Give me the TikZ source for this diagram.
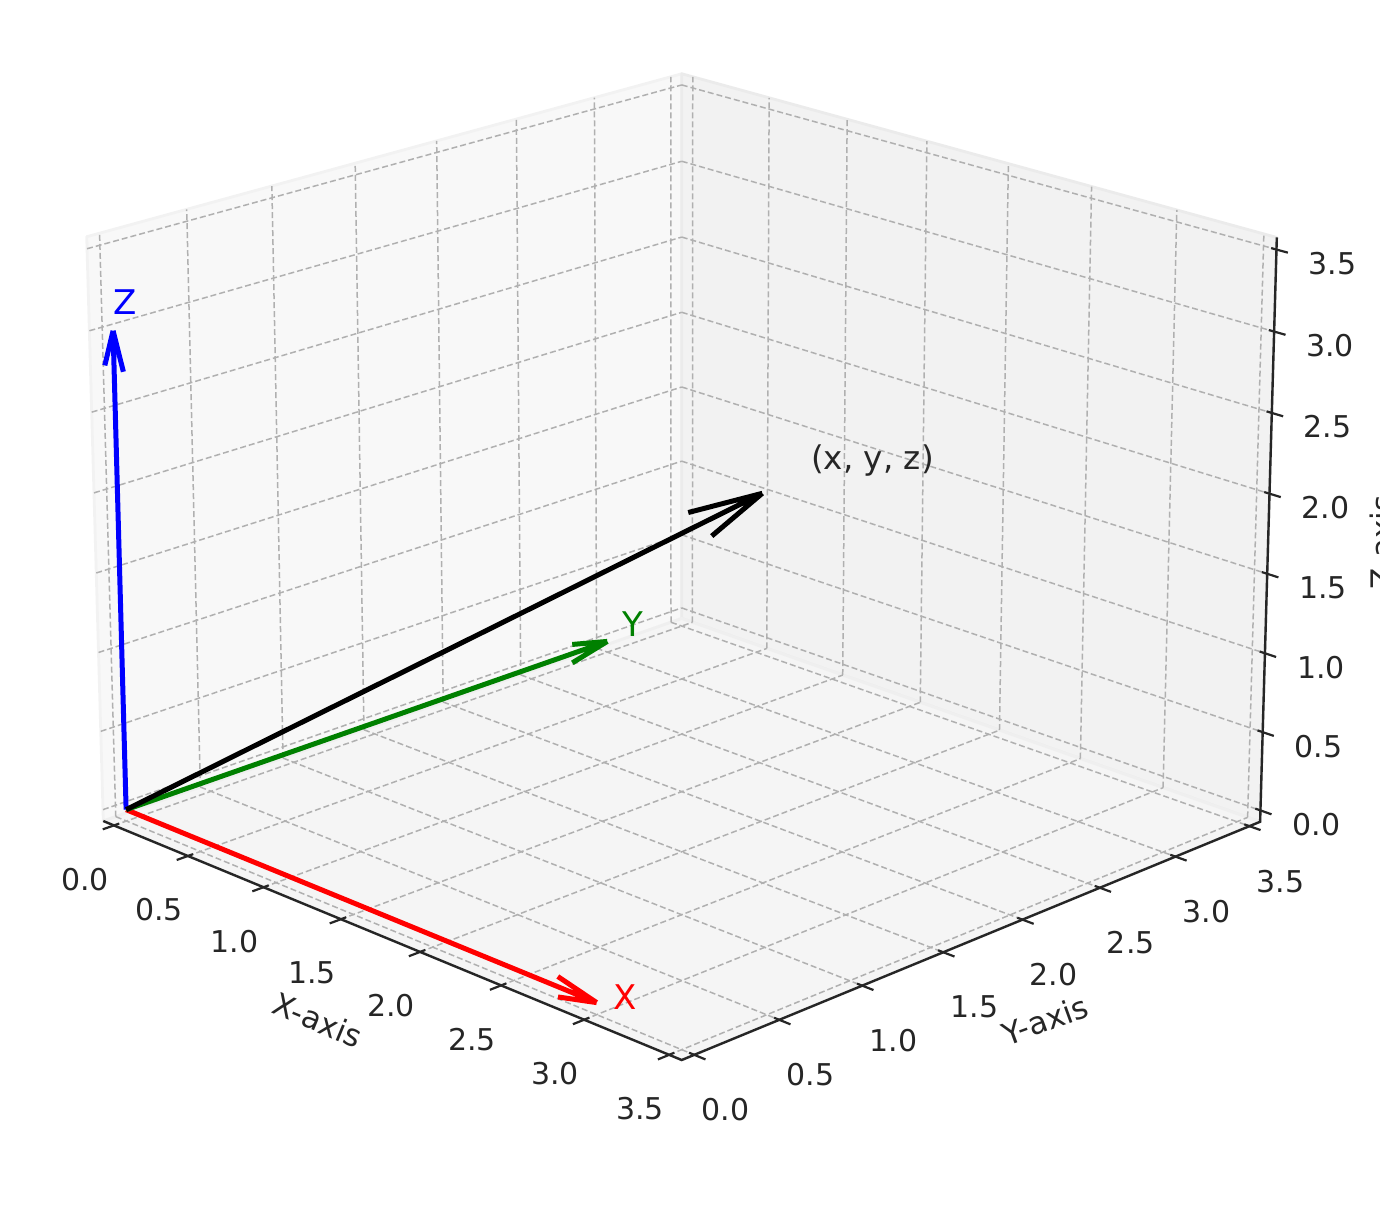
\documentclass[tikz,border=0pt]{standalone}
\usepackage{fontspec}
\setmainfont{DejaVu Sans}
\usetikzlibrary{calc}

\definecolor{ink}{HTML}{262626}
\definecolor{gridgray}{HTML}{B0B0B0}
\definecolor{panex}{HTML}{F8F8F8}
\definecolor{paney}{HTML}{F2F2F2}
\definecolor{panez}{HTML}{F5F5F5}
\definecolor{edgex}{HTML}{F2F2F2}
\definecolor{edgey}{HTML}{EBEBEB}
\definecolor{edgez}{HTML}{EFEFEF}
\definecolor{vgreen}{HTML}{008000}

% padded data box [-pad, 3.5+pad]^3 seen in perspective
\newcommand{\boxpad}{0.072917}
\newcommand{\boxrng}{3.645833}
\def\lo{-0.072917}
\def\hi{3.572917}
% \setpt{name}{x}{y}{z}: coordinate of a data point
\newcommand{\setpt}[4]{%
  \pgfmathsetmacro\pu{(#2+\boxpad)/\boxrng}%
  \pgfmathsetmacro\pv{(#3+\boxpad)/\boxrng}%
  \pgfmathsetmacro\pw{(#4+\boxpad)/\boxrng}%
  \pgfmathsetmacro\pd{1-0.081*\pu+0.081*\pv-0.028*\pw}%
  \pgfmathsetmacro\px{103.3+(0.919*\pu*578.4+1.081*\pv*578.4-0.972*\pw*16.6)/\pd}%
  \pgfmathsetmacro\py{821+(0.919*\pu*239-1.081*\pv*202.5-0.972*\pw*584.3)/\pd}%
  \coordinate (#1) at (\px,\py);%
}

\begin{document}
\begin{tikzpicture}[
    x=0.5pt, y=-0.5pt,
    pane/.style={line width=1.4pt, line join=round},
    grid/.style={draw=gridgray, line width=0.75pt, dash pattern=on 3pt off 1.5pt},
    axisline/.style={draw=ink, line width=1.2pt},
    tickline/.style={draw=ink, line width=1.1pt},
    ticklbl/.style={text=ink, inner sep=0pt, font=\fontsize{15}{17}\selectfont},
    axislbl/.style={text=ink, inner sep=0pt, font=\fontsize{15.5}{18}\selectfont},
    vec/.style={line width=2.5pt},
    veclbl/.style={anchor=base west, inner sep=0pt, font=\fontsize{17}{20}\selectfont}
  ]
  \useasboundingbox (0,0) rectangle (1380,1216);

  % Box corners
  \setpt{A000}{\lo}{\lo}{\lo}
  \setpt{A100}{\hi}{\lo}{\lo}
  \setpt{A010}{\lo}{\hi}{\lo}
  \setpt{A110}{\hi}{\hi}{\lo}
  \setpt{A001}{\lo}{\lo}{\hi}
  \setpt{A011}{\lo}{\hi}{\hi}
  \setpt{A111}{\hi}{\hi}{\hi}

  % Panes
  \draw[pane, draw=edgex, fill=panex] (A000) -- (A010) -- (A011) -- (A001) -- cycle;
  \draw[pane, draw=edgey, fill=paney] (A010) -- (A110) -- (A111) -- (A011) -- cycle;
  \draw[pane, draw=edgez, fill=panez] (A000) -- (A100) -- (A110) -- (A010) -- cycle;

  % Grid
  \foreach \t in {0.0,0.5,1.0,1.5,2.0,2.5,3.0,3.5} {
    \setpt{g1}{\lo}{\t}{\lo} \setpt{g2}{\lo}{\t}{\hi}
    \draw[grid] (g1) -- (g2);
    \setpt{g1}{\lo}{\lo}{\t} \setpt{g2}{\lo}{\hi}{\t}
    \draw[grid] (g1) -- (g2);
    \setpt{g1}{\t}{\hi}{\lo} \setpt{g2}{\t}{\hi}{\hi}
    \draw[grid] (g1) -- (g2);
    \setpt{g1}{\lo}{\hi}{\t} \setpt{g2}{\hi}{\hi}{\t}
    \draw[grid] (g1) -- (g2);
    \setpt{g1}{\t}{\lo}{\lo} \setpt{g2}{\t}{\hi}{\lo}
    \draw[grid] (g1) -- (g2);
    \setpt{g1}{\lo}{\t}{\lo} \setpt{g2}{\hi}{\t}{\lo}
    \draw[grid] (g1) -- (g2);
  }

  % Axes
  \draw[axisline] (A000) -- (A100) -- (A110) -- (A111);

  % Ticks and tick labels
  \foreach \t [count=\i] in {0.0,0.5,1.0,1.5,2.0,2.5,3.0,3.5} {
    \setpt{xa}{\t}{\lo}{\lo}
    \setpt{t1}{\t}{\lo+0.03}{\lo} \setpt{t2}{\t}{\lo-0.065}{\lo}
    \draw[tickline] (t1) -- (t2);
    \node[ticklbl] (xt\i) at ([shift={(-29,54)}]xa) {\t};
    \setpt{ya}{\hi}{\t}{\lo}
    \setpt{t1}{\hi-0.03}{\t}{\lo} \setpt{t2}{\hi+0.065}{\t}{\lo}
    \draw[tickline] (t1) -- (t2);
    \node[ticklbl] (yt\i) at ([shift={(31,55)}]ya) {\t};
    \setpt{za}{\hi}{\hi}{\t}
    \setpt{t1}{\hi-0.03}{\hi}{\t} \setpt{t2}{\hi+0.065}{\hi}{\t}
    \draw[tickline] (t1) -- (t2);
    \node[ticklbl] (zt\i) at ([shift={(56,14)}]za) {\t};
  }

  % Axis labels
  \node[axislbl, rotate=-22.5] (xlabel) at (318,1020) {X-axis};
  \node[axislbl, rotate=20] (ylabel) at (1045,1020) {Y-axis};
  \node[axislbl, rotate=90, anchor=base west] (zlabel) at (1393,590) {Z-axis};

  % Vectors
  \setpt{O}{0}{0}{0}
  \setpt{Xt}{3}{0}{0}
  \setpt{Xh1}{2.7682}{0}{0.0621}
  \setpt{Xh2}{2.7682}{0}{-0.0621}
  \setpt{Yt}{0}{3}{0}
  \setpt{Yh1}{0}{2.7682}{0.0621}
  \setpt{Yh2}{0}{2.7682}{-0.0621}
  \setpt{Zt}{0}{0}{3}
  \setpt{Zh1}{0.0621}{0}{2.7682}
  \setpt{Zh2}{-0.0621}{0}{2.7682}
  \setpt{Pt}{2}{2}{2}
  \setpt{Ph1}{1.8434}{1.8434}{1.7336}
  \setpt{Ph2}{1.7702}{1.7702}{1.8800}

  \draw[vec, red] (O) -- (Xt) (Xh1) -- (Xt) (Xh2) -- (Xt);
  \draw[vec, vgreen] (O) -- (Yt) (Yh1) -- (Yt) (Yh2) -- (Yt);
  \draw[vec, blue] (O) -- (Zt) (Zh1) -- (Zt) (Zh2) -- (Zt);
  \draw[vec, black] (O) -- (Pt) (Ph1) -- (Pt) (Ph2) -- (Pt);

  % Vector labels
  \setpt{Xl}{3.1}{0}{0}
  \setpt{Yl}{0}{3.1}{0}
  \setpt{Zl}{0}{0}{3.1}
  \setpt{Pl}{2.15}{2.15}{2.15}
  \node[veclbl, text=red] (xname) at (Xl) {X};
  \node[veclbl, text=vgreen] (yname) at (Yl) {Y};
  \node[veclbl, text=blue] (zname) at (Zl) {Z};
  \node[veclbl, text=ink, font=\fontsize{16.3}{19}\selectfont] (pname) at (Pl) {(x, y, z)};
\end{tikzpicture}
\end{document}
